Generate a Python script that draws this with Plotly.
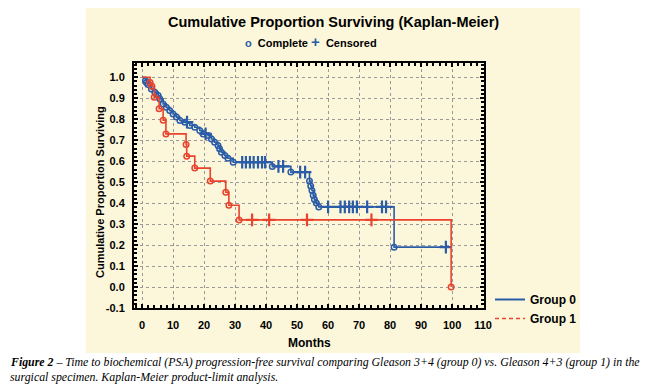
import plotly.graph_objects as go

# ---------------- data ----------------
g0_event_t = [1.1, 1.4, 1.9, 3.0, 4.1, 5.2, 5.7, 6.8, 7.8, 8.9, 10.0, 11.1, 12.2, 13.8,
              15.4, 17.0, 18.6, 19.7, 21.3, 22.4, 23.4, 24.5, 25.0, 25.6, 26.7, 27.7,
              29.4, 42.0, 48.0, 54.0, 54.4, 54.8, 55.2, 55.6, 56.2, 57.0, 81.3]
g0_event_s = [0.985, 0.975, 0.965, 0.944, 0.929, 0.913, 0.897, 0.873, 0.857, 0.841,
              0.825, 0.810, 0.794, 0.786, 0.770, 0.762, 0.746, 0.730, 0.722, 0.706,
              0.690, 0.675, 0.659, 0.643, 0.627, 0.614, 0.595, 0.575, 0.548, 0.505,
              0.482, 0.460, 0.438, 0.417, 0.400, 0.382, 0.190]
g0_cens_t = [14.5, 20.5, 32.3, 33.5, 34.8, 36.0, 37.4, 38.7, 39.7, 44.0, 45.5, 51.0,
             52.6, 60.0, 64.0, 65.4, 66.8, 68.0, 69.3, 72.6, 77.4, 78.7, 98.0]

g1_event_t = [2.6, 3.2, 3.9, 5.5, 6.8, 7.7, 14.2, 14.4, 17.0, 22.0, 27.0, 28.0, 31.3, 99.7]
g1_event_s = [0.975, 0.957, 0.905, 0.850, 0.795, 0.730, 0.680, 0.624, 0.567, 0.505, 0.452,
              0.390, 0.320, 0.0]
g1_cens_t = [35.5, 41.0, 53.2, 74.0]

x_ticks = [0, 10, 20, 30, 40, 50, 60, 70, 80, 90, 100, 110]
y_ticks = [-0.1, 0.0, 0.1, 0.2, 0.3, 0.4, 0.5, 0.6, 0.7, 0.8, 0.9, 1.0]

BLUE = "#2b5ca8"
RED = "#e8432d"
CREAM = "#fcf7da"
FONT = "Liberation Sans"


def step_xy(ev_t, ev_s, cens_t):
    xs, ys = [0.0], [1.0]
    for t, s in zip(ev_t, ev_s):
        xs.append(t)
        ys.append(s)
    last = max(ev_t + cens_t)
    xs.append(last)
    ys.append(ys[-1])
    return xs, ys


def surv_at(ev_t, ev_s, t):
    s = 1.0
    for et, es in zip(ev_t, ev_s):
        if et <= t:
            s = es
    return s


fig = go.Figure()

for ev_t, ev_s, cens_t, col in [(g0_event_t, g0_event_s, g0_cens_t, BLUE),
                                (g1_event_t, g1_event_s, g1_cens_t, RED)]:
    xs, ys = step_xy(ev_t, ev_s, cens_t)
    fig.add_trace(go.Scatter(x=xs, y=ys, mode="lines", line=dict(color=col, width=1.6, shape="hv"),
                             showlegend=False, hoverinfo="skip"))
    fig.add_trace(go.Scatter(x=ev_t, y=ev_s, mode="markers",
                             marker=dict(symbol="circle-open", size=5.5, color=col, line=dict(width=1.5)),
                             showlegend=False))
    fig.add_trace(go.Scatter(x=cens_t, y=[surv_at(ev_t, ev_s, t) for t in cens_t], mode="markers",
                             marker=dict(symbol="cross-thin", size=9, color=col, line=dict(width=2.2, color=col)),
                             showlegend=False))

# legend entries
fig.add_trace(go.Scatter(x=[None], y=[None], mode="lines", name="Group 0",
                         line=dict(color=BLUE, width=2)))
fig.add_trace(go.Scatter(x=[None], y=[None], mode="lines", name="Group 1",
                         line=dict(color=RED, width=1.5, dash="4px,3px")))

# page pixel geometry (the page body adds an 8px offset to the figure)
OFF = 8
W, H = 650 - OFF, 391 - OFF
L, R, T, B = 134 - OFF, 484 - OFF, 63 - OFF, 308 - OFF
pw, ph = R - L, B - T


def px(x):
    return (x - OFF - L) / pw


def py(y):
    return (B - (y - OFF)) / ph


axis_common = dict(showline=True, linecolor="black", linewidth=2, mirror="allticks",
                   ticks="inside", ticklen=4, tickwidth=1.5, tickcolor="black",
                   showgrid=True, gridcolor="#999999", gridwidth=1, griddash="dot",
                   zeroline=False, tickfont=dict(family=FONT, size=11, color="black", weight="bold"))

fig.update_layout(
    width=W, height=H,
    margin=dict(l=L, r=W - R, t=T, b=H - B),
    paper_bgcolor="white", plot_bgcolor="white",
    showlegend=True,
    legend=dict(x=px(490), y=py(285), xanchor="left", yanchor="top", bgcolor="rgba(0,0,0,0)",
                font=dict(family=FONT, size=12, color="black", weight="bold"),
                tracegroupgap=2, itemwidth=30),
    xaxis=dict(range=[-2.6, 110.3], tickvals=x_ticks, ticktext=[str(v) for v in x_ticks],
               minor=dict(ticks="inside", dtick=2, ticklen=3, tickcolor="black", showgrid=False),
               ticklabelstandoff=6, **axis_common),
    yaxis=dict(range=[-0.1, 1.068], tickvals=y_ticks, ticktext=[f"{v:.1f}" for v in y_ticks],
               minor=dict(ticks="inside", dtick=0.02, ticklen=3, tickcolor="black", showgrid=False),
               ticklabelstandoff=5, **axis_common),
    shapes=[dict(type="rect", xref="paper", yref="paper", x0=px(86), x1=px(580), y0=py(353), y1=py(5),
                 fillcolor=CREAM, line=dict(width=0), layer="below")],
    annotations=[
        dict(text="<b>Cumulative Proportion Surviving (Kaplan-Meier)</b>", xref="paper", yref="paper",
             x=px(333), y=py(22), xanchor="center", yanchor="middle", showarrow=False,
             font=dict(family=FONT, size=14.5, color="black")),
        dict(text=f"<b><span style='color:{BLUE}'>o</span>  Complete <span style='color:{BLUE};font-size:15px'>+</span>  Censored</b>",
             xref="paper", yref="paper", x=px(311), y=py(41), xanchor="center", yanchor="middle",
             showarrow=False, font=dict(family=FONT, size=11, color="black")),
        dict(text="<b>Months</b>", xref="paper", yref="paper", x=px(309), y=py(343),
             xanchor="center", yanchor="middle", showarrow=False,
             font=dict(family=FONT, size=12, color="black")),
        dict(text="<b>Cumulative Proportion Surviving</b>", xref="paper", yref="paper", x=px(100), y=py(192),
             xanchor="center", yanchor="middle", textangle=-90, showarrow=False,
             font=dict(family=FONT, size=11, color="black")),
        dict(text="<b><i>Figure 2</i></b><i> – Time to biochemical (PSA) progression-free survival comparing Gleason 3+4 (group 0) vs. Gleason 4+3 (group 1) in the</i>",
             xref="paper", yref="paper", x=px(OFF), y=py(362), xanchor="left", yanchor="middle",
             showarrow=False, font=dict(family="Liberation Serif", size=11.85, color="black")),
        dict(text="<i>surgical specimen. Kaplan-Meier product-limit analysis.</i>",
             xref="paper", yref="paper", x=px(OFF), y=py(377), xanchor="left", yanchor="middle",
             showarrow=False, font=dict(family="Liberation Serif", size=11.85, color="black")),
    ],
)

fig.write_html("out.html")
